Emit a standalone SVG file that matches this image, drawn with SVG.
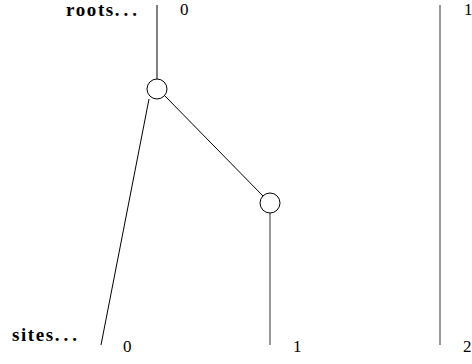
<svg xmlns="http://www.w3.org/2000/svg" width="472" height="364" viewBox="0 0 472 364">
<style>
.e{stroke:#000;stroke-width:1;fill:none}
.g{stroke:#555;stroke-width:1.2;fill:none}
.n{stroke:#000;stroke-width:1;fill:#fff}
.t{font-family:"Liberation Serif",serif;font-size:17px;fill:#000}
.b{font-weight:bold;font-size:19px}
.d{letter-spacing:4px}
</style>
<g id="labels">
<text class="t b" x="66" y="16"><tspan letter-spacing="1.6">roots</tspan><tspan class="d">...</tspan></text>
<text class="t" x="180" y="15">0</text>
<text class="t" x="464" y="15">1</text>
<text class="t b" x="12" y="341"><tspan letter-spacing="1.6">sites</tspan><tspan class="d">...</tspan></text>
<text class="t" x="123" y="352">0</text>
<text class="t" x="293" y="352">1</text>
<text class="t" x="463" y="352">2</text>
</g>
<g id="connectors">
<line class="e" x1="157" y1="5" x2="157" y2="79"/>
<line class="e" x1="164.5" y1="95.5" x2="263" y2="196"/>
<line class="e" x1="149" y1="99" x2="101" y2="345"/>
<line class="g" x1="270" y1="213" x2="270" y2="345"/>
<line class="g" x1="440" y1="5" x2="440" y2="345"/>
</g>
<g id="node1"><circle class="n" cx="157" cy="89" r="10"/></g>
<g id="node2"><circle class="n" cx="270" cy="203" r="10"/></g>
</svg>
